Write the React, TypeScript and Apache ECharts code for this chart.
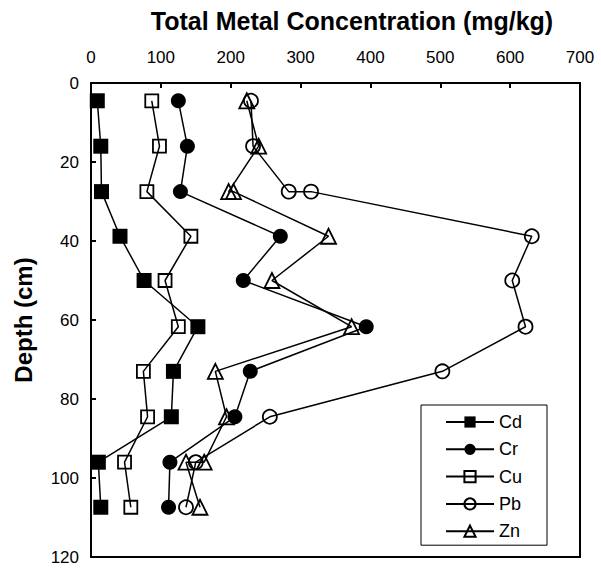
import React, { useEffect, useRef } from "react";
import * as echarts from "echarts";

const xTicks = [0, 100, 200, 300, 400, 500, 600, 700];
const yTicks = [0, 20, 40, 60, 80, 100, 120];

const depth = [4.5, 16, 27.5, 38.8, 50, 61.7, 73, 84.5, 96, 107.4];
const cd = [9, 14, 15, 41.5, 76, 153, 118, 115, 10.5, 14];
const cr = [125, 138, 128, 271, 218, 394, 228, 206, 113, 111];
const cu = [87, 98, 80, 143, 106, 125, 75, 81, 48, 57];

const pbDepth = [4.5, 16, 27.5, 27.5, 38.8, 50, 61.7, 73, 84.5, 96, 107.4];
const pb = [229, 232, 283, 315, 631, 603, 622, 503, 256, 150, 136];

const znDepth = [4.5, 16, 27.5, 27.5, 38.8, 50, 61.7, 73, 84.5, 96, 96, 107.4];
const zn = [223, 240, 197, 204, 340, 259, 373, 178, 194, 162, 136, 156];

const FONT = "Liberation Sans, Arial, sans-serif";

function pairs(xs: number[], ys: number[]) {
  return xs.map((v, i) => [v, ys[i]]);
}

export default function App() {
  const ref = useRef<HTMLDivElement>(null);
  useEffect(() => {
    if (!ref.current) return;
    const chart = echarts.init(ref.current, undefined, { renderer: "svg" });
    const mk = (name: string, data: number[][], symbol: string, filled: boolean, size: number) => ({
      name,
      type: "line",
      data,
      symbol,
      symbolSize: size,
      showSymbol: true,
      color: "#000",
      lineStyle: { color: "#000", width: 1.5 },
      itemStyle: {
        color: filled ? "#000" : "rgba(255,255,255,0)",
        borderColor: "#000",
        borderWidth: filled ? 0 : 1.8,
      },
      z: 3,
    });
    chart.setOption({
      animation: false,
      title: {
        text: "Total Metal Concentration (mg/kg)",
        left: 347,
        top: 3,
        textAlign: "center",
        textStyle: { fontFamily: FONT, fontSize: 25, fontWeight: "bold", color: "#000" },
      },
      grid: {
        left: 91,
        right: 21,
        top: 83,
        bottom: 13,
        show: true,
        borderColor: "#000",
        borderWidth: 2,
        backgroundColor: "transparent",
      },
      legend: {
        orient: "vertical",
        left: 421,
        top: 405,
        padding: [7, 25, 4, 24],
        itemGap: 7.3,
        itemWidth: 48,
        itemHeight: 14,
        borderColor: "#000",
        borderWidth: 1,
        textStyle: { fontFamily: FONT, fontSize: 18, color: "#000", lineHeight: 20 },
        data: ["Cd", "Cr", "Cu", "Pb", "Zn"],
      },
      xAxis: {
        type: "value",
        position: "top",
        min: xTicks[0],
        max: xTicks[xTicks.length - 1],
        interval: 100,
        axisLine: { show: true, lineStyle: { color: "#000", width: 2 } },
        axisTick: { show: true, inside: true, length: 5, lineStyle: { color: "#000", width: 2 } },
        axisLabel: { fontFamily: FONT, fontSize: 17, color: "#000", margin: 17 },
        splitLine: { show: false },
      },
      yAxis: {
        type: "value",
        inverse: true,
        min: yTicks[0],
        max: yTicks[yTicks.length - 1],
        interval: 20,
        name: "Depth (cm)",
        nameLocation: "middle",
        nameGap: 56,
        nameTextStyle: { fontFamily: FONT, fontSize: 24, fontWeight: "bold", color: "#000" },
        axisLine: { show: true, lineStyle: { color: "#000", width: 2 } },
        axisTick: { show: true, inside: true, length: 5, lineStyle: { color: "#000", width: 2 } },
        axisLabel: { fontFamily: FONT, fontSize: 17, color: "#000", margin: 12 },
        splitLine: { show: false },
      },
      series: [
        mk("Cd", pairs(cd, depth), "rect", true, 15),
        mk("Cr", pairs(cr, depth), "circle", true, 15),
        mk("Cu", pairs(cu, depth), "rect", false, 13),
        mk("Pb", pairs(pb, pbDepth), "circle", false, 14),
        mk("Zn", pairs(zn, znDepth), "triangle", false, 15),
      ],
    });
    return () => chart.dispose();
  }, []);
  return <div ref={ref} style={{ width: 601, height: 570, position: "absolute", left: 0, top: 0 }} />;
}
